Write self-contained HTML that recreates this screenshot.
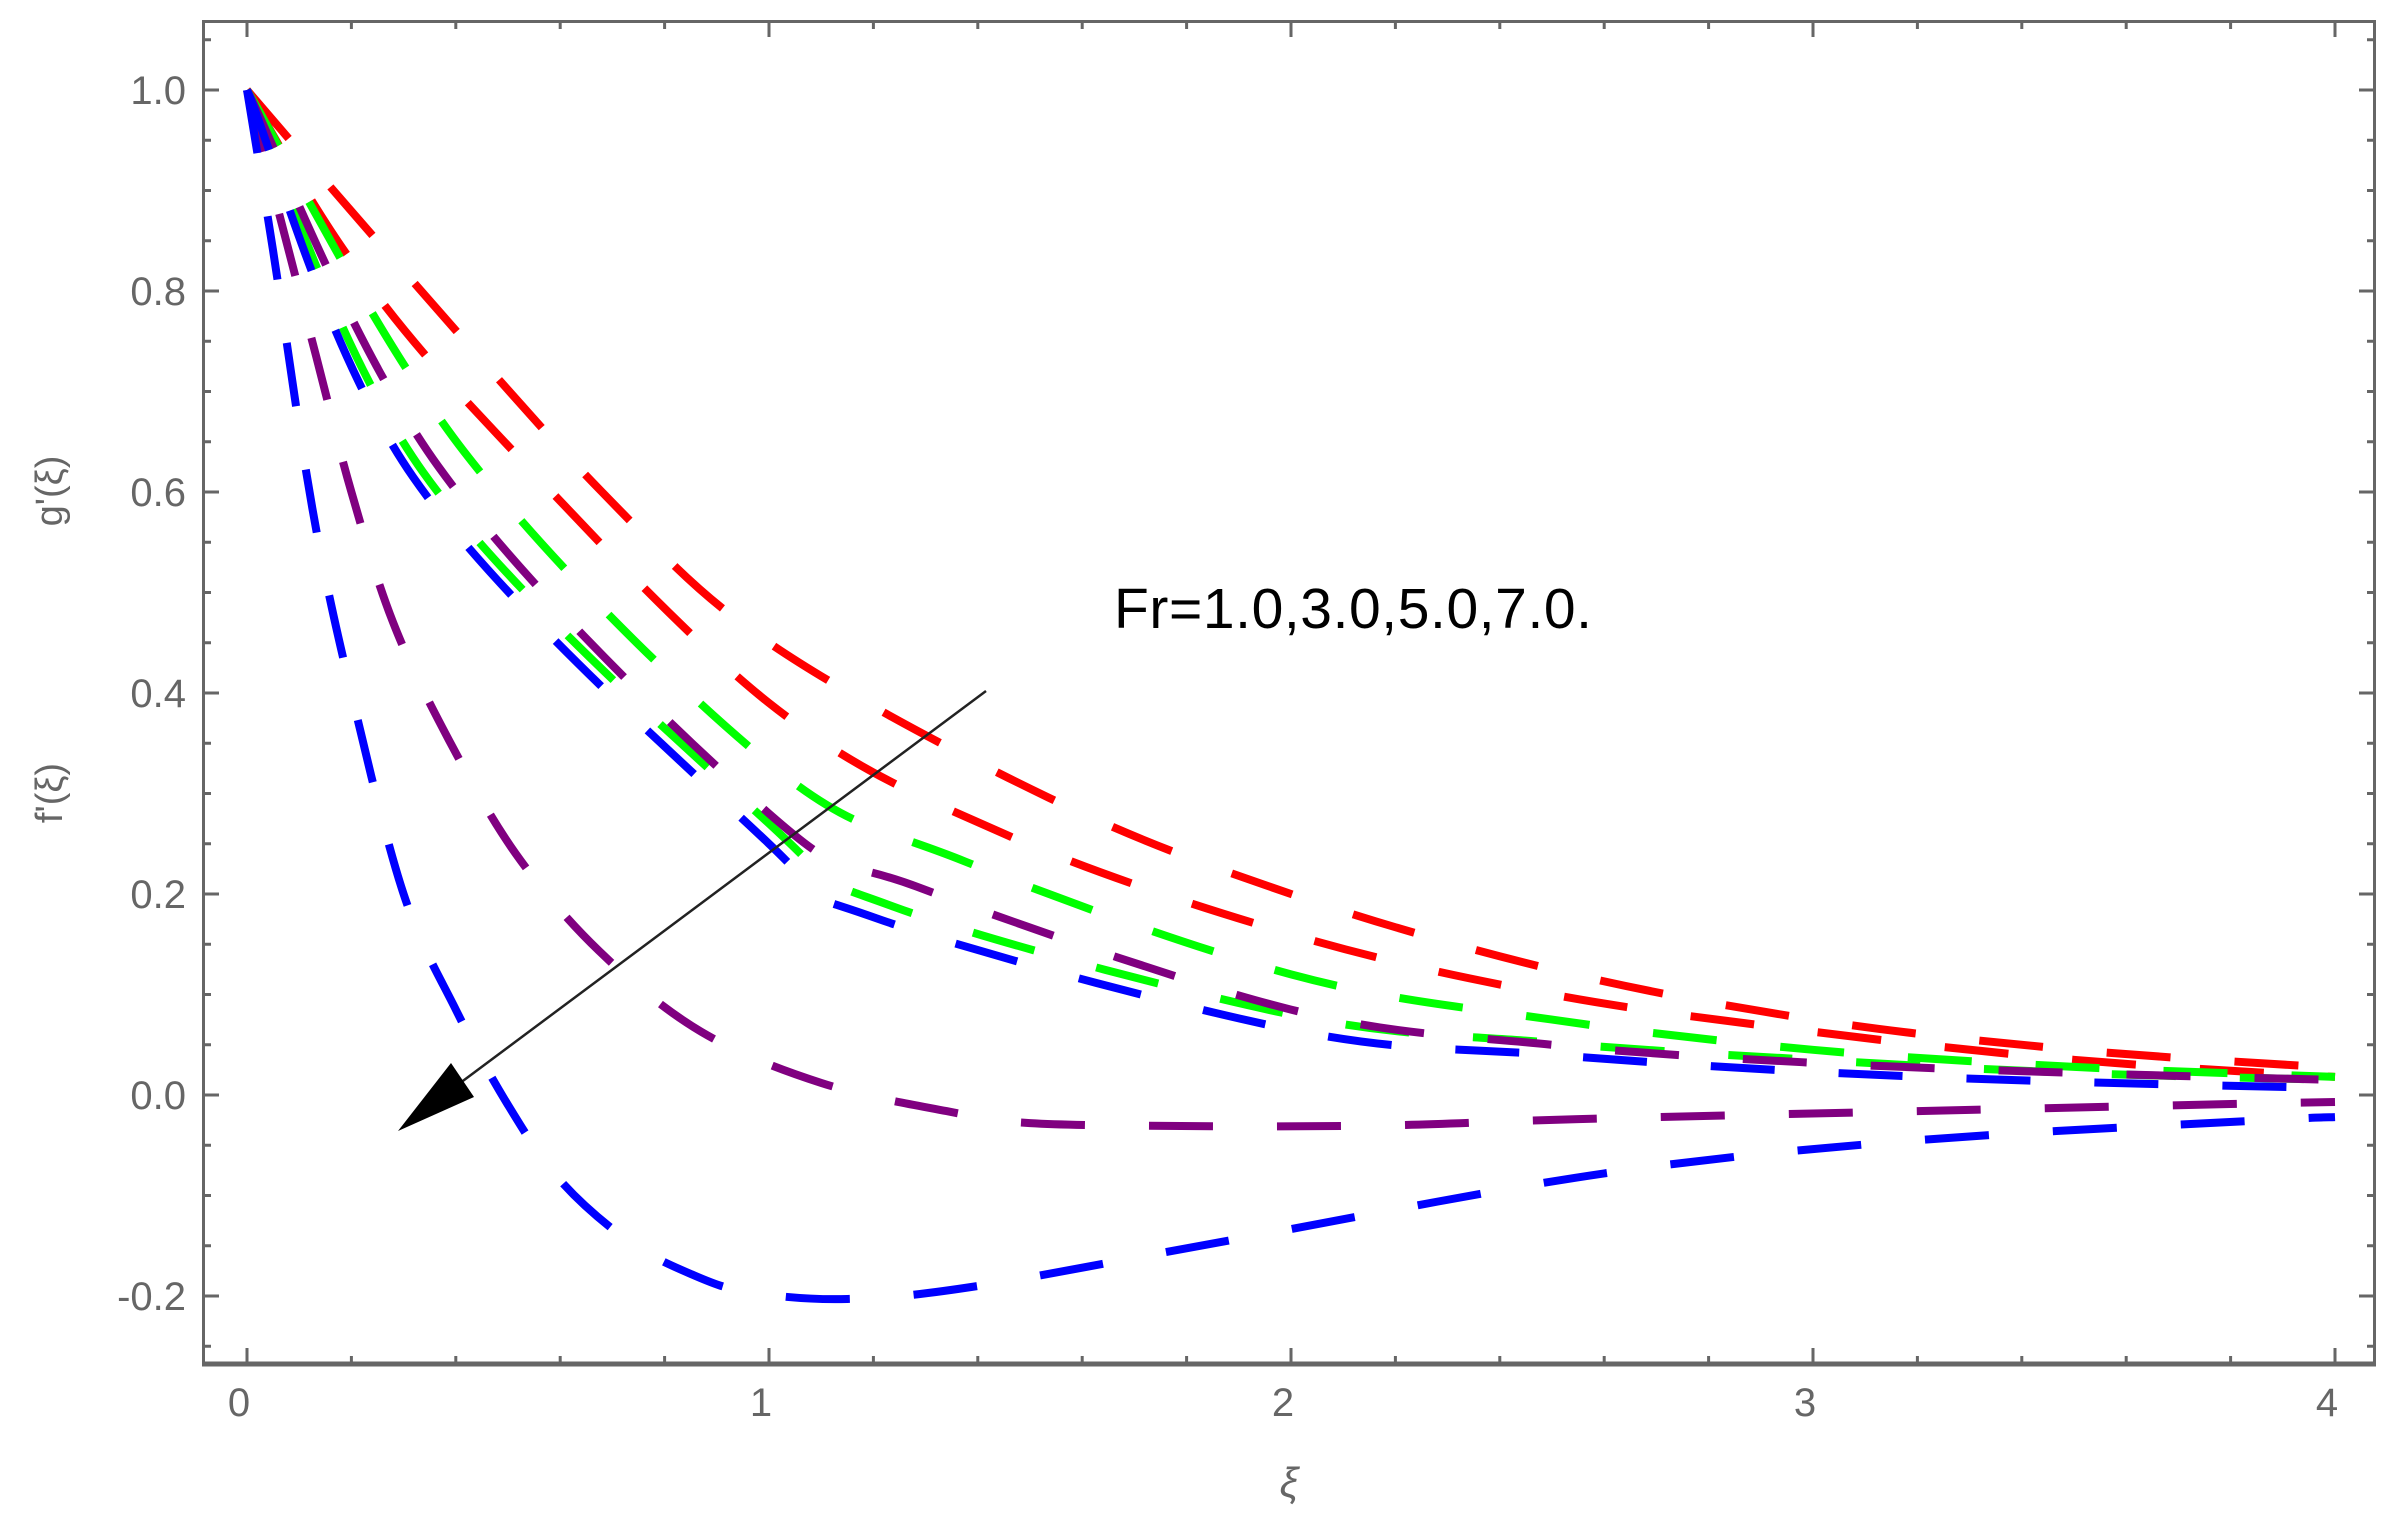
<!DOCTYPE html>
<html><head><meta charset="utf-8"><style>
html,body{margin:0;padding:0;background:#fff;}
svg{display:block;}
text{font-family:"Liberation Sans",Arial,sans-serif;}
</style></head><body>
<svg id="s" width="2397" height="1531" viewBox="0 0 2397 1531" xmlns="http://www.w3.org/2000/svg">
<defs><clipPath id="c"><rect x="204" y="22" width="2169" height="1340"/></clipPath></defs>
<g id="ticks" stroke="#666" stroke-width="3"></g>
<rect x="203.5" y="21.5" width="2171" height="1342" fill="none" stroke="#666" stroke-width="3"/>
<line x1="202" y1="1364" x2="2376" y2="1364" stroke="#666" stroke-width="5"/>
<g id="labels" fill="#666" font-size="40"></g>
<g id="curves" clip-path="url(#c)" fill="none" stroke-width="8" stroke-dasharray="64 64"></g>
<line x1="986" y1="691" x2="440" y2="1098" stroke="#222" stroke-width="2.5"/>
<polygon points="398,1131 451,1063 474,1097" fill="#000"/>
<text x="1114" y="628" font-size="57" fill="#000" textLength="478">Fr=1.0,3.0,5.0,7.0.</text>
<text x="1289" y="1497" font-size="42" fill="#666" font-style="italic" text-anchor="middle" font-family="Liberation Serif, serif">ξ</text>
<text transform="translate(62,491) rotate(-90)" font-size="38" fill="#666" text-anchor="middle">g'(ξ)</text>
<text transform="translate(62,793) rotate(-90)" font-size="38" fill="#666" text-anchor="middle">f'(ξ)</text>
</svg>
<script>
var NS="http://www.w3.org/2000/svg";
function X(x){return 247+522*x;}
function Y(v){return 1095-1005*v;}
function el(t,a,p){var e=document.createElementNS(NS,t);for(var k in a)e.setAttribute(k,a[k]);p.appendChild(e);return e;}
var tk=document.getElementById('ticks'),lb=document.getElementById('labels');
for(var i=0;i<=20;i++){var xv=i*0.2,px=X(xv),maj=(i%5==0),L=maj?16:8;
 el('line',{x1:px,y1:1364,x2:px,y2:1364-L},tk);
 el('line',{x1:px,y1:21,x2:px,y2:21+L},tk);}
for(var j=-5;j<=21;j++){var v=j*0.05,py=Y(v);if(py<21||py>1364)continue;var maj=(j%4==0),L=maj?16:8;
 el('line',{x1:203,y1:py,x2:203+L,y2:py},tk);
 el('line',{x1:2375,y1:py,x2:2375-L,y2:py},tk);}
[0,1,2,3,4].forEach(function(n){var t=el('text',{x:X(n)-8,y:1416,'text-anchor':'middle'},lb);t.textContent=n;});
[[-0.2,'-0.2'],[0,'0.0'],[0.2,'0.2'],[0.4,'0.4'],[0.6,'0.6'],[0.8,'0.8'],[1,'1.0']].forEach(function(a){
 var t=el('text',{x:186,y:Y(a[0])+14,'text-anchor':'end'},lb);t.textContent=a[1];});
var C={r:'#ff0000',g:'#00ff00',p:'#800080',b:'#0000ff'};
var curves=[
 ['r',[[0,1],[0.3,0.82],[0.68,0.6],[1.0,0.45],[1.535,0.296],[2,0.2],[2.5,0.125],[3,0.075],[3.5,0.045],[4,0.027]]],
 ['r',[[0,1],[0.2,0.83],[0.475,0.66],[1,0.39],[1.45,0.26],[2,0.16],[2.5,0.1],[3,0.063],[3.5,0.035],[4,0.018]]],
 ['g',[[0,1],[0.416,0.64],[1,0.33],[1.377,0.232],[2,0.12],[2.5,0.075],[3,0.045],[3.5,0.028],[4,0.018]]],
 ['g',[[0,1],[0.337,0.62],[1,0.27],[1.241,0.187],[2,0.08],[2.5,0.052],[3,0.035],[3.5,0.022],[4,0.015]]],
 ['p',[[0,1],[0.367,0.625],[1,0.28],[1.29,0.206],[2,0.085],[2.5,0.05],[3,0.032],[3.5,0.022],[4,0.015]]],
 ['p',[[0,1],[0.133,0.734],[0.2,0.6],[0.28,0.47],[0.387,0.353],[0.515,0.24],[0.675,0.143],[0.87,0.063],[1.1,0.012],[1.34,-0.016],[1.5,-0.028],[1.85,-0.031],[2.2,-0.03],[2.55,-0.024],[3.2,-0.016],[3.8,-0.009],[4,-0.007]]],
 ['b',[[0,1],[0.318,0.615],[1,0.25],[1.205,0.176],[2,0.065],[2.5,0.04],[3,0.023],[3.5,0.013],[4,0.007]]],
 ['b',[[0,1],[0.05,0.84],[0.125,0.584],[0.2,0.4],[0.3,0.2],[0.4,0.085],[0.5,-0.01],[0.6,-0.085],[0.73,-0.145],[0.85,-0.178],[0.96,-0.196],[1.15,-0.203],[1.4,-0.19],[1.9,-0.143],[2.6,-0.078],[3.2,-0.045],[3.87,-0.025],[4,-0.022]]]
];
var cg=document.getElementById('curves');
curves.forEach(function(c){
 var P=c[1].map(function(q){return [X(q[0]),Y(q[1])];});
 var d='M'+P[0][0]+' '+P[0][1];
 for(var i=0;i<P.length-1;i++){
  var p0=P[Math.max(i-1,0)],p1=P[i],p2=P[i+1],p3=P[Math.min(i+2,P.length-1)];
  var c1=[p1[0]+(p2[0]-p0[0])/6,p1[1]+(p2[1]-p0[1])/6];
  var c2=[p2[0]-(p3[0]-p1[0])/6,p2[1]-(p3[1]-p1[1])/6];
  d+=' C'+c1[0].toFixed(1)+' '+c1[1].toFixed(1)+' '+c2[0].toFixed(1)+' '+c2[1].toFixed(1)+' '+p2[0].toFixed(1)+' '+p2[1].toFixed(1);
 }
 el('path',{d:d,stroke:C[c[0]]},cg);
});
</script>
</body></html>
